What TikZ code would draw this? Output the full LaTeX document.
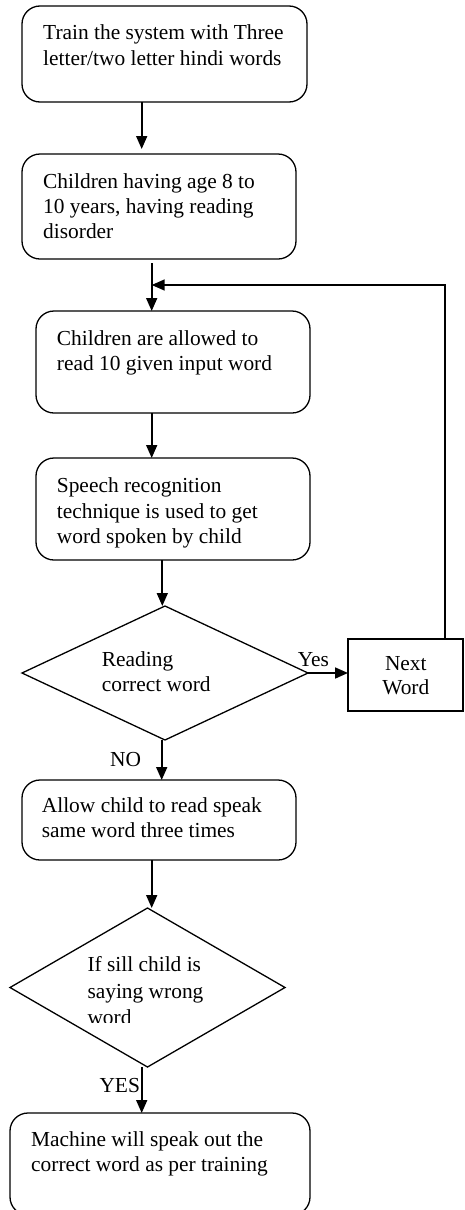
\documentclass[tikz,border=0pt]{standalone}
\usepackage{fontspec}
\setmainfont{Liberation Serif}
\usetikzlibrary{arrows.meta,shapes.geometric}
\begin{document}
\begin{tikzpicture}[x=1pt,y=-1pt,
  proc/.style={draw, rounded corners=18pt, line width=1.3pt, inner sep=0pt,
               outer sep=0pt, anchor=north west},
  plain/.style={draw, line width=1.6pt, inner sep=0pt, outer sep=0pt, anchor=north west},
  decision/.style={draw, diamond, line width=1.3pt, inner sep=0pt, outer sep=0pt},
  txt/.style={anchor=base west, inner sep=0pt, font=\fontsize{21.4}{26}\selectfont},
  ctxt/.style={txt, anchor=base},
  arr/.style={line width=1.7pt, -{Triangle[length=13pt,width=11pt]}},
  loopline/.style={line width=1.5pt, -{Triangle[length=13pt,width=11pt]}}]

\useasboundingbox (0,0) rectangle (464,1210);
\clip (0,0) rectangle (464,1210);

% process boxes
\node[proc, minimum width=285pt, minimum height=96pt]  (b1) at (22,6) {};
\node[proc, minimum width=274pt, minimum height=105pt] (b2) at (22,154) {};
\node[proc, minimum width=274pt, minimum height=102pt] (b3) at (36,311) {};
\node[proc, minimum width=274pt, minimum height=102pt] (b4) at (36,458) {};
\node[proc, minimum width=274pt, minimum height=80pt]  (b5) at (22,780) {};
\node[proc, minimum width=300pt, minimum height=102pt] (b6) at (10,1113) {};
\node[plain, minimum width=115pt, minimum height=72pt] (nw) at (348,639) {};

% decisions
\node[decision, minimum width=286pt, minimum height=134pt] (d1) at (165,673) {};
\node[decision, minimum width=275pt, minimum height=159pt] (d2) at (147.5,987.5) {};

% box texts
\node[txt] (t1a) at (43,39.3)  {Train the system with Three};
\node[txt] (t1b) at (43,65.7)  {letter/two letter hindi words};
\node[txt] (t2a) at (43,188.3) {Children having age 8 to};
\node[txt] (t2b) at (43,213.3) {10 years, having reading};
\node[txt] (t2c) at (43,238)   {disorder};
\node[txt] (t3a) at (56.7,345)   {Children are allowed to};
\node[txt] (t3b) at (56.7,370.7) {read 10 given input word};
\node[txt] (t4a) at (56.7,492.7) {Speech recognition};
\node[txt] (t4b) at (56.7,518)   {technique is used to get};
\node[txt] (t4c) at (56.7,543.3) {word spoken by child};
\node[txt] (t5a) at (101.7,666)   {Reading};
\node[txt] (t5b) at (101.7,691.7) {correct word};
\node[ctxt] (t6a) at (405.8,670)   {Next};
\node[ctxt] (t6b) at (405.8,694.3) {Word};
\node[txt] (t7a) at (41.7,812.7) {Allow child to read speak};
\node[txt] (t7b) at (41.7,837.3) {same word three times};
\node[txt] (t8a) at (87.3,971.7) {If sill child is};
\node[txt] (t8b) at (87.3,998.3) {saying wrong};
\begin{scope}
  \clip (80,990) rectangle (200,1022.5);
  \node[txt] (t8c) at (87.3,1024.8) {word};
\end{scope}
\node[txt] (t9a) at (31,1146)   {Machine will speak out the};
\node[txt] (t9b) at (31,1171.7) {correct word as per training};

% branch labels
\node[txt] (lyes) at (297.7,666.7) {Yes};
\node[txt] (lno)  at (110,766.7)   {NO};
\node[txt] (lyes2) at (99.3,1092.7) {YES};

% connector columns
\coordinate (c1) at (141.7,0);
\coordinate (c2) at (151.7,0);
\coordinate (c3) at (162.3,0);
\coordinate (c4) at (161.7,0);
\coordinate (fbtop) at (445,285);
\coordinate (fbin)  at (151.7,285);

% connectors
\draw[arr, shorten >=5pt] (b1.south -| c1) -- (b2.north -| c1);
\draw[arr, shorten <=4pt] (b2.south -| c2) -- (b3.north -| c2);
\draw[arr] (b3.south -| c2) -- (b4.north -| c2);
\draw[arr] (b4.south -| c3) -- (d1.north -| c3);
\draw[arr] (d1.east) -- (d1.east -| nw.west);
\draw[loopline] (nw.north -| fbtop) -- (fbtop) -- (fbin);
\draw[arr] (d1.south -| c4) -- (b5.north -| c4);
\draw[arr] (b5.south -| c2) -- (d2.north -| c2);
\draw[arr] (d2.south -| c1) -- (b6.north -| c1);

\end{tikzpicture}
\end{document}
